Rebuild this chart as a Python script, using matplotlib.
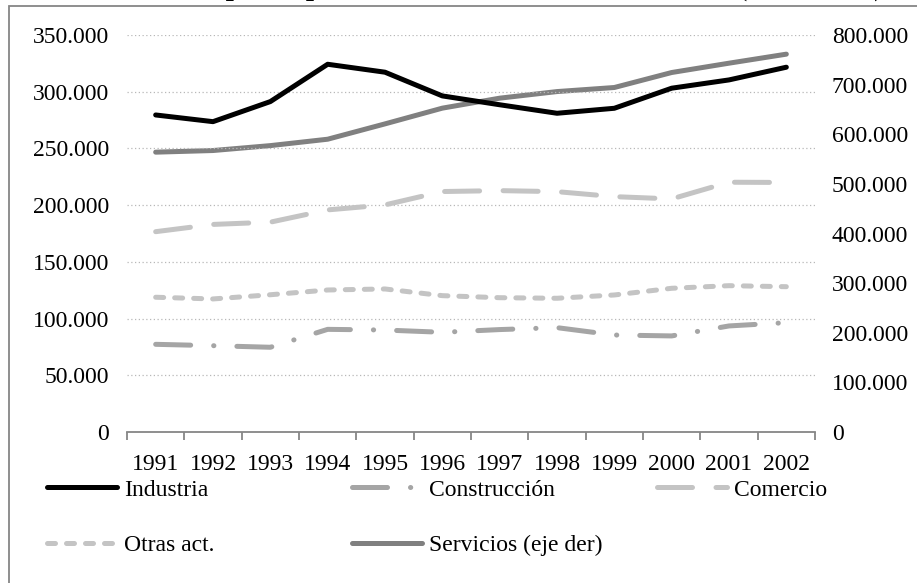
import matplotlib
matplotlib.use("Agg")
import matplotlib.pyplot as plt
from matplotlib.ticker import FixedLocator, FuncFormatter, MultipleLocator
from matplotlib.patches import Rectangle
import numpy as np

plt.rcParams["font.family"] = ["Liberation Serif", "DejaVu Serif"]

years = ["1991", "1992", "1993", "1994", "1995", "1996",
         "1997", "1998", "1999", "2000", "2001", "2002"]
industria = [279500, 273600, 291300, 324200, 317200, 296300,
             288500, 281000, 285400, 303100, 310400, 321600]
construccion = [77300, 76100, 74700, 90500, 89900, 87900,
                90300, 92000, 85500, 84700, 93500, 96400]
comercio = [176600, 183000, 185000, 195800, 200200, 212000,
            212800, 211900, 207500, 205500, 220200, 220000]
otras = [118800, 117300, 121000, 125200, 126100, 120200,
         118400, 117900, 120800, 126700, 129000, 128100]
servicios = [563900, 567200, 577100, 590000, 620900, 652600,
             672700, 686000, 694200, 724400, 743200, 761400]

fs = 17
grey_axis = "#868686"

fig = plt.figure(figsize=(9.17, 5.83), dpi=100)
ax = fig.add_axes([127 / 917, 1 - 432 / 583, (815 - 127) / 917, (432 - 35) / 583])
ax2 = ax.twinx()

x = np.arange(1, len(years) + 1)
lw = 3.6

l_ind, = ax.plot(x, industria, color="black", lw=lw, solid_capstyle="round",
                 solid_joinstyle="round", label="Industria")
l_con, = ax.plot(x, construccion, color="#a5a5a5", lw=lw,
                 linestyle=(0, (7, 4.6, 0.05, 4.6)), dash_capstyle="round",
                 dash_joinstyle="round", label="Construcción")
l_com, = ax.plot(x, comercio, color="#c4c4c4", lw=lw,
                 linestyle=(0, (7, 4.7)), dash_capstyle="round",
                 dash_joinstyle="round", label="Comercio")
l_otr, = ax.plot(x, otras, color="#c4c4c4", lw=lw,
                 linestyle=(0, (1.6, 2.2)), dash_capstyle="round",
                 dash_joinstyle="round", label="Otras act.")
l_ser, = ax2.plot(x, servicios, color="#808080", lw=lw, solid_capstyle="round",
                  solid_joinstyle="round", label="Servicios (eje der)")

ax.set_zorder(ax2.get_zorder() + 1)
ax.patch.set_visible(False)

ax.set_xlim(0.5, len(years) + 0.5)
ax.set_ylim(0, 350000)
ax2.set_ylim(0, 800000)
ax.yaxis.set_major_locator(MultipleLocator(50000))
ax2.yaxis.set_major_locator(MultipleLocator(100000))

fmt = FuncFormatter(lambda v, p: "0" if v == 0 else f"{int(v):,}".replace(",", "."))
ax.yaxis.set_major_formatter(fmt)
ax2.yaxis.set_major_formatter(fmt)

# category boundaries as major ticks, labels on minor ticks
ax.xaxis.set_major_locator(FixedLocator(np.arange(0.5, len(years) + 1, 1)))
ax.xaxis.set_major_formatter(FuncFormatter(lambda v, p: ""))
ax.xaxis.set_minor_locator(FixedLocator(x))
ax.set_xticklabels(years, minor=True)
ax.tick_params(axis="x", which="major", length=5.5, width=1.3, color=grey_axis, direction="out")
ax.tick_params(axis="x", which="minor", length=0, pad=16, labelsize=fs)
ax.tick_params(axis="y", length=0, pad=13, labelsize=fs)
ax2.tick_params(axis="y", length=0, pad=12, labelsize=fs)

for a in (ax, ax2):
    for s in ("left", "right", "top"):
        a.spines[s].set_visible(False)
ax.spines["bottom"].set_color(grey_axis)
ax.spines["bottom"].set_linewidth(1.3)
ax2.spines["bottom"].set_visible(False)

ax.yaxis.grid(True, linestyle=(0, (1, 2)), color="#b8b8b8", lw=0.9)
ax.set_axisbelow(True)
for gl in ax.yaxis.get_gridlines()[:1]:
    gl.set_visible(False)

# chart-area frame (cropped by the picture edges)
fig.patches.append(Rectangle((9 / 917, -0.2), 1.2, 1.2 - 5.5 / 583,
                             transform=fig.transFigure, fill=False,
                             edgecolor=grey_axis, lw=1.3))

# title sits above the crop, only its descenders show
fig.text(884 / 917, 1 + 5 / 583, "Ocupados por ramas de actividad económica (1991-2002)",
         ha="right", va="baseline", fontsize=21, fontweight="bold")

leg_kw = dict(frameon=False, fontsize=fs, handlelength=2.97, handletextpad=0.3,
              borderpad=0, borderaxespad=0, labelspacing=1.45, loc="upper left")
top = 1 - 479 / 583
fig.legend([l_ind, l_otr], ["Industria", "Otras act."],
           bbox_to_anchor=(47 / 917, top), **leg_kw)
fig.legend([l_con, l_ser], ["Construcción", "Servicios (eje der)"],
           bbox_to_anchor=(352 / 917, top), **leg_kw)
fig.legend([l_com], ["Comercio"],
           bbox_to_anchor=(657 / 917, top), **leg_kw)

fig.savefig("out.png", dpi=100)
